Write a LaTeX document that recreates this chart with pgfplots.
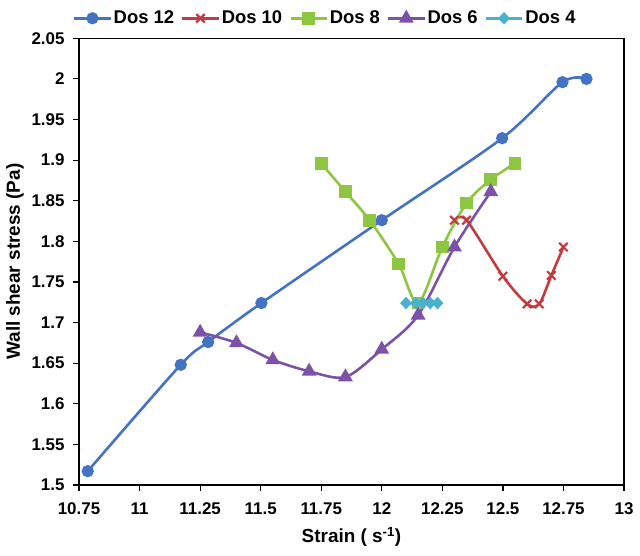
\documentclass[border=0pt]{standalone}
\usepackage{fontspec}
\setmainfont{Liberation Sans}
\newfontfamily\tickfont{Liberation Sans}[UprightFont=*-Bold, BoldFont=*-Bold]
\usepackage{pgfplots}
\usepackage{pgfplotstable}
\pgfplotsset{compat=1.18}
\definecolor{cA}{HTML}{4573C4}
\definecolor{cB}{HTML}{C53A3F}
\definecolor{cC}{HTML}{8DC640}
\definecolor{cD}{HTML}{7C52A8}
\definecolor{cE}{HTML}{4BB0CC}
\newcommand{\tb}[1]{\mbox{\tickfont\bfseries #1}}

\pgfplotstableread{
x y
10.786 1.517
11.17 1.648
11.283 1.676
11.503 1.724
12.0 1.826
12.497 1.927
12.746 1.996
12.845 2.0
}\dosA
\pgfplotstableread{
x y
12.30 1.826
12.35 1.826
12.50 1.757
12.60 1.723
12.65 1.723
12.70 1.758
12.75 1.793
}\dosB
\pgfplotstableread{
x y
11.75 1.896
11.85 1.861
11.95 1.826
12.07 1.772
12.15 1.724
12.25 1.793
12.35 1.847
12.45 1.876
12.55 1.896
}\dosC
\pgfplotstableread{
x y
11.25 1.688
11.40 1.675
11.55 1.654
11.70 1.640
11.85 1.633
12.00 1.667
12.15 1.709
12.30 1.793
12.45 1.861
}\dosD
\pgfplotstableread{
x y
12.10 1.724
12.14 1.724
12.17 1.724
12.20 1.724
12.23 1.724
}\dosE

\begin{document}
\begin{tikzpicture}[x=1bp,y=1bp]
\useasboundingbox (0,0) rectangle (640,556);
\begin{axis}[
  at={(79bp,71bp)}, anchor=south west,
  scale only axis, width=545bp, height=446.7bp,
  xmin=10.75, xmax=13, ymin=1.5, ymax=2.05,
  xtick={10.75,11,11.25,11.5,11.75,12,12.25,12.5,12.75,13},
  xticklabels={\tb{10.75},\tb{11},\tb{11.25},\tb{11.5},\tb{11.75},\tb{12},\tb{12.25},\tb{12.5},\tb{12.75},\tb{13}},
  ytick={1.5,1.55,1.6,1.65,1.7,1.75,1.8,1.85,1.9,1.95,2,2.05},
  yticklabels={\tb{1.5},\tb{1.55},\tb{1.6},\tb{1.65},\tb{1.7},\tb{1.75},\tb{1.8},\tb{1.85},\tb{1.9},\tb{1.95},\tb{2},\tb{2.05}},
  yticklabel style={font=\fontsize{17}{19}\selectfont\bfseries\boldmath, xshift=-5bp},
  xticklabel style={font=\fontsize{17}{19}\selectfont\bfseries\boldmath, yshift=-8bp},
  tick align=outside, major tick length=6bp,
  xtick pos=bottom, ytick pos=left,
  axis line style={line width=1.4bp, black},
  every tick/.style={line width=1.2bp, black},
  xlabel={Strain ( s\textsuperscript{-1})},
  ylabel={Wall shear stress (Pa)},
  every axis x label/.style={at={(axis description cs:0.5,0)}, yshift=-52bp, anchor=center,
    font=\fontsize{19}{21}\selectfont\bfseries},
  every axis y label/.style={at={(axis description cs:0,0.5)}, xshift=-64bp, rotate=90, anchor=center,
    font=\fontsize{19}{21}\selectfont\bfseries},
  legend style={at={(axis description cs:0.452,1.0448)}, anchor=center, draw=none, fill=none,
    font=\fontsize{18.5}{20}\selectfont\bfseries, /tikz/every even column/.append style={column sep=5bp},
    inner sep=0pt},
  legend columns=5,
  legend image code/.code={\draw[mark repeat=2,mark phase=2] plot coordinates {(0bp,0bp) (18bp,0bp) (36bp,0bp)};},
  every axis plot/.append style={line width=2.6bp, smooth, tension=0.5},
]
\addplot[color=cA, mark=*, mark size=4.8bp, mark options={solid}] table {\dosA};
\addlegendentry{Dos 12}
\addplot[color=cB, mark=x, mark size=6bp, mark options={line width=2.2bp}] table {\dosB};
\addlegendentry{Dos 10}
\addplot[color=cC, mark=square*, mark size=5bp] table {\dosC};
\addlegendentry{Dos 8}
\addplot[color=cD, mark=triangle*, mark size=6bp] table {\dosD};
\addlegendentry{Dos 6}
\addplot[color=cE, mark=diamond*, mark size=5.5bp, mark options={yscale=0.8}] table {\dosE};
\addlegendentry{Dos 4}
\end{axis}
\end{tikzpicture}
\end{document}
